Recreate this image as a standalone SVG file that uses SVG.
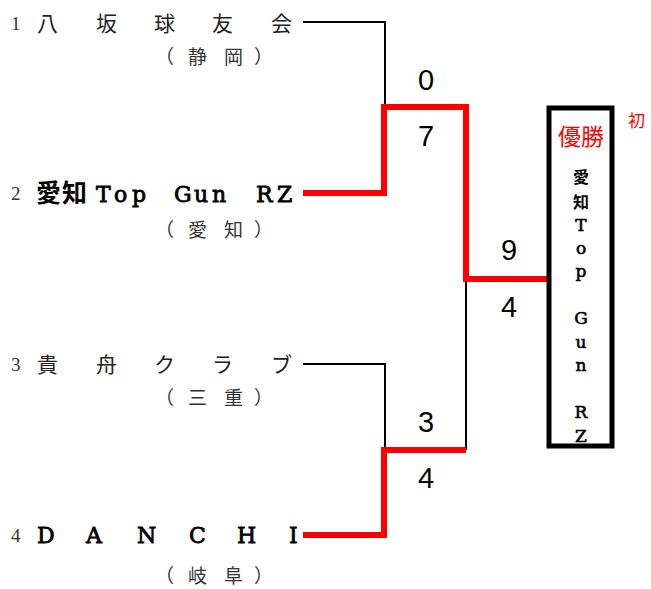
<svg xmlns="http://www.w3.org/2000/svg" width="651" height="589" viewBox="0 0 651 589">
<style>
.num{font-family:"Liberation Serif","Noto Sans CJK JP",serif;font-size:19px;fill:#333}
.name{font-family:"Liberation Serif","Noto Sans CJK JP",serif;font-size:21px;fill:#222}
.bold{font-family:"DejaVu Serif","Noto Sans CJK JP",serif;font-size:22px;fill:#000;stroke:#000;stroke-width:0.8}
.cjkb{font-weight:bold;stroke:none;font-size:25px}
.pref{font-family:"Liberation Serif","Noto Sans CJK JP",serif;font-size:19px;fill:#333}
.score{font-family:"Liberation Sans",Arial,sans-serif;font-size:29px;fill:#000;text-anchor:middle}
.win{font-family:"DejaVu Serif","Noto Sans CJK JP",serif;font-size:17px;fill:#000;stroke:#000;stroke-width:0.6;text-anchor:middle}
.winc{font-family:"Noto Sans CJK JP",sans-serif;font-size:16px;font-weight:bold;fill:#000;text-anchor:middle}
.blk{fill:none;stroke:#000;stroke-width:2}
.red{fill:none;stroke:#f00;stroke-width:6}
</style>
<rect width="651" height="589" fill="#fff"/>
<g id="team1">
<text class="num" x="11" y="30">1</text>
<text class="name" y="31"><tspan x="37">八</tspan><tspan x="96">坂</tspan><tspan x="154">球</tspan><tspan x="212">友</tspan><tspan x="271">会</tspan></text>
<text class="pref" y="64"><tspan x="155">（</tspan><tspan x="188">静</tspan><tspan x="224">岡</tspan><tspan x="254">）</tspan></text>
</g>
<g id="team2">
<text class="num" x="11" y="200">2</text>
<text class="bold" y="202"><tspan class="cjkb" x="36">愛</tspan><tspan class="cjkb" x="62">知</tspan><tspan x="96">T</tspan><tspan x="114">o</tspan><tspan x="132">p</tspan><tspan x="174">G</tspan><tspan x="194">u</tspan><tspan x="212">n</tspan><tspan x="256">R</tspan><tspan x="277">Z</tspan></text>
<text class="pref" y="237"><tspan x="155">（</tspan><tspan x="188">愛</tspan><tspan x="224">知</tspan><tspan x="254">）</tspan></text>
</g>
<g id="team3">
<text class="num" x="11" y="371">3</text>
<text class="name" y="372"><tspan x="37">貴</tspan><tspan x="96">舟</tspan><tspan x="154">ク</tspan><tspan x="212">ラ</tspan><tspan x="271">ブ</tspan></text>
<text class="pref" y="405"><tspan x="155">（</tspan><tspan x="188">三</tspan><tspan x="224">重</tspan><tspan x="254">）</tspan></text>
</g>
<g id="team4">
<text class="num" x="11" y="542">4</text>
<text class="bold" y="543"><tspan x="37">D</tspan><tspan x="86">A</tspan><tspan x="137">N</tspan><tspan x="189">C</tspan><tspan x="237">H</tspan><tspan x="289">I</tspan></text>
<text class="pref" y="583"><tspan x="155">（</tspan><tspan x="188">岐</tspan><tspan x="224">阜</tspan><tspan x="254">）</tspan></text>
</g>
<g id="connectors">
<polyline class="blk" points="303,22 385,22 385,107"/>
<polyline class="blk" points="303,364 385,364 385,450"/>
<polyline class="blk" points="466,279 466,450"/>
<polyline class="red" points="303,193 384,193 384,107 466,107 466,279 549,279"/>
<polyline class="red" points="303,535 384,535 384,450 466,450"/>
</g>
<g id="scores">
<text class="score" x="426" y="90">0</text>
<text class="score" x="426" y="146">7</text>
<text class="score" x="509" y="260">9</text>
<text class="score" x="509" y="317">4</text>
<text class="score" x="426" y="432">3</text>
<text class="score" x="426" y="488">4</text>
</g>
<g id="champion">
<rect x="549" y="108" width="63" height="338" fill="none" stroke="#000" stroke-width="5"/>
<text x="581" y="145" font-family="Noto Sans CJK JP,sans-serif" font-size="23" fill="#f00" text-anchor="middle">優勝</text>
<text x="628" y="127" font-family="Noto Sans CJK JP,sans-serif" font-size="17" fill="#f00">初</text>
<text class="winc" x="581" y="183">愛</text>
<text class="winc" x="581" y="208">知</text>
<text class="win" x="581" y="231">T</text>
<text class="win" x="581" y="254">o</text>
<text class="win" x="581" y="277">p</text>
<text class="win" x="581" y="324">G</text>
<text class="win" x="581" y="348">u</text>
<text class="win" x="581" y="371">n</text>
<text class="win" x="581" y="418">R</text>
<text class="win" x="581" y="442">Z</text>
</g>
</svg>
